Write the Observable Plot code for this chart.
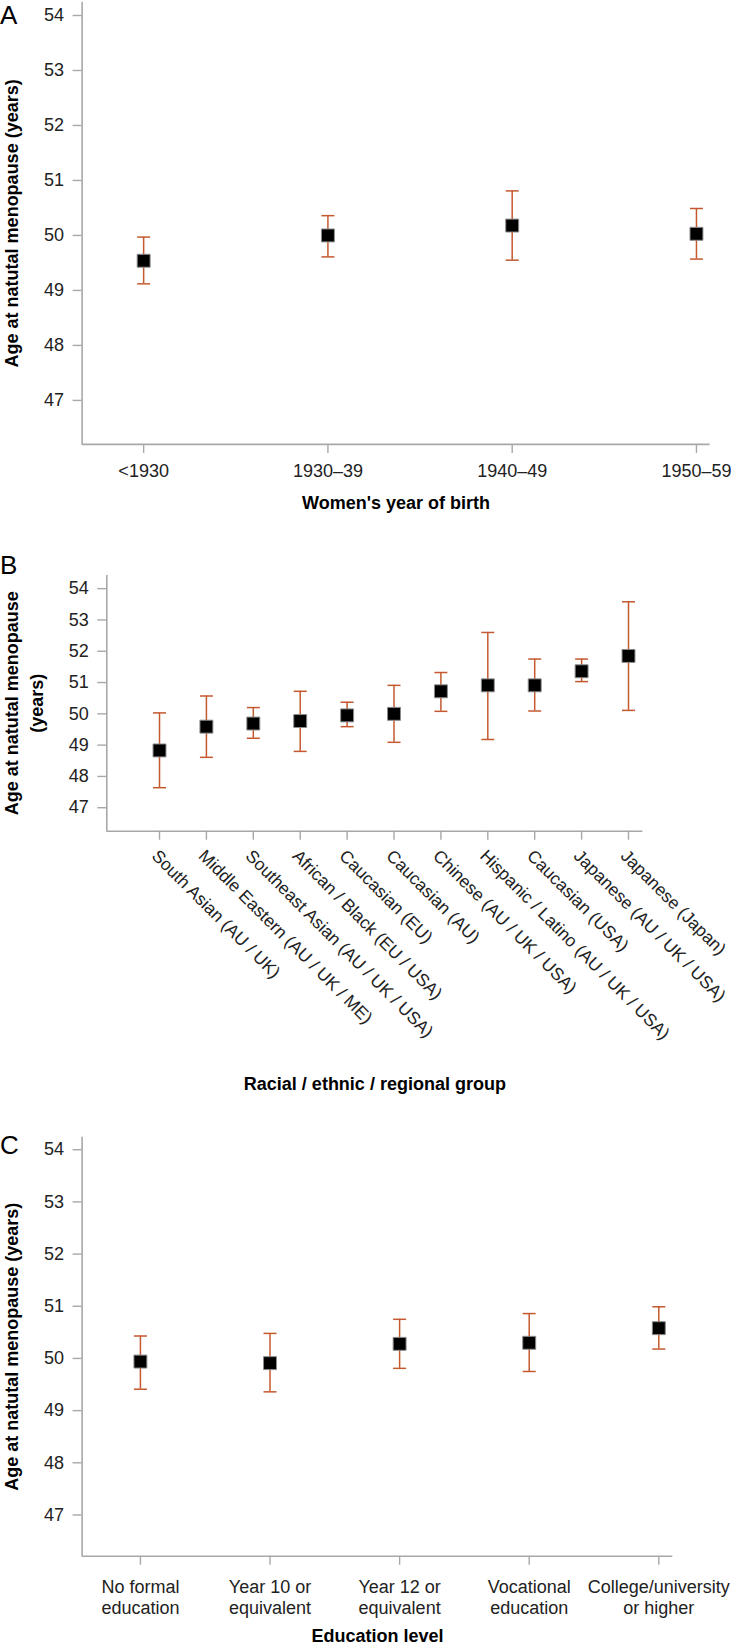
<!DOCTYPE html>
<html>
<head>
<meta charset="utf-8">
<script src="https://cdn.jsdelivr.net/npm/d3@7"></script>
<script src="https://cdn.jsdelivr.net/npm/@observablehq/plot@0.6"></script>
<style>
  body { margin: 0; background: #fff; }
  #wrap { position: relative; width: 731px; height: 1650px; overflow: hidden; font-family: "Liberation Sans", Arial, sans-serif; }
  .panel { position: absolute; left: 0; }
  .letter { position: absolute; left: 0; font-size: 26px; line-height: 26px; color: #000; }
</style>
</head>
<body>
<div id="wrap">
  <div class="panel" id="pa" style="top:0px"></div>
  <div class="panel" id="pb" style="top:540px"></div>
  <div class="panel" id="pc" style="top:1120px"></div>
  <div class="letter" style="top:2px">A</div>
  <div class="letter" style="top:552px">B</div>
  <div class="letter" style="top:1132px">C</div>
</div>
<script>
// ---- Data ----
const yTicks = [47, 48, 49, 50, 51, 52, 53, 54];

// Panel A: women's year of birth
const birthCohorts = ["<1930", "1930–39", "1940–49", "1950–59"];
const birthMean = [49.54, 50.00, 50.18, 50.03];
const birthLow  = [49.12, 49.61, 49.55, 49.57];
const birthHigh = [49.97, 50.36, 50.81, 50.49];

// Panel B: racial / ethnic / regional group
const groups = [
  "South Asian (AU / UK)",
  "Middle Eastern (AU / UK / ME)",
  "Southeast Asian (AU / UK / USA)",
  "African / Black (EU / USA)",
  "Caucasian (EU)",
  "Caucasian (AU)",
  "Chinese (AU / UK / USA)",
  "Hispanic / Latino (AU / UK / USA)",
  "Caucasian (USA)",
  "Japanese (AU / UK / USA)",
  "Japanese (Japan)"
];
const groupMean = [48.83, 49.59, 49.69, 49.77, 49.95, 50.00, 50.72, 50.91, 50.91, 51.36, 51.85];
const groupLow  = [47.64, 48.61, 49.22, 48.80, 49.59, 49.09, 50.08, 49.18, 50.09, 51.03, 50.11];
const groupHigh = [50.03, 50.57, 50.20, 50.72, 50.37, 50.91, 51.32, 52.60, 51.75, 51.75, 53.58];

// Panel C: education level
const eduLevels = [
  "No formal\neducation",
  "Year 10 or\nequivalent",
  "Year 12 or\nequivalent",
  "Vocational\neducation",
  "College/university\nor higher"
];
const eduMean = [49.94, 49.91, 50.28, 50.30, 50.58];
const eduLow  = [49.41, 49.36, 49.81, 49.75, 50.18];
const eduHigh = [50.43, 50.48, 50.75, 50.86, 50.99];

const yTitleOne = "Age at natutal menopause (years)";
const yTitleTwo = "Age at natutal menopause\n(years)";

// ---- Styles ----
const axisColor = "#a8a8a8";
const errColor = "#c4592f";
const textColor = "#222";
const fontFamily = "'Liberation Sans', Arial, Helvetica, sans-serif";

// horizontal cap symbol for the error bars
const capSymbol = {
  draw(ctx, size) {
    const h = Math.sqrt(size / Math.PI);
    ctx.moveTo(-h, 0);
    ctx.lineTo(h, 0);
  }
};

function panel(cfg) {
  const data = cfg.labels.map((label, i) => ({
    i, label, mean: cfg.mean[i], low: cfg.low[i], high: cfg.high[i]
  }));
  const idx = data.map(d => d.i);
  const marks = [
    Plot.ruleX([cfg.xDomain[0]], {stroke: axisColor, strokeWidth: 1.6}),
    Plot.ruleY([cfg.yDomain[0]], {stroke: axisColor, strokeWidth: 1.6}),
    Plot.axisY({
      ticks: yTicks, tickSize: 9, tickPadding: 9, fontSize: 18,
      stroke: axisColor, strokeWidth: 1.4, fill: textColor, label: null
    })
  ];
  if (cfg.rotate) {
    marks.push(Plot.axisX({
      ticks: idx, tickSize: 9, tickFormat: () => "", stroke: axisColor, strokeWidth: 1.4, label: null
    }));
    marks.push(Plot.text(data, {
      x: "i", text: "label", frameAnchor: "bottom", dy: cfg.labelDy,
      rotate: 45, textAnchor: "start", lineAnchor: "top",
      fontSize: 17.5, fill: textColor
    }));
  } else {
    marks.push(Plot.axisX({
      ticks: idx, tickFormat: i => cfg.labels[i], tickSize: 9, tickPadding: cfg.xTickPadding,
      fontSize: 18, lineHeight: 1.17, stroke: axisColor, strokeWidth: 1.4, fill: textColor, label: null
    }));
  }
  marks.push(
    Plot.ruleX(data, {x: "i", y1: "low", y2: "high", stroke: errColor, strokeWidth: 1.5}),
    Plot.dot(data, {x: "i", y: "low", symbol: capSymbol, r: 6.5, fill: "none", stroke: errColor, strokeWidth: 1.5}),
    Plot.dot(data, {x: "i", y: "high", symbol: capSymbol, r: 6.5, fill: "none", stroke: errColor, strokeWidth: 1.5}),
    Plot.dot(data, {x: "i", y: "mean", symbol: "square", r: 7.3, fill: "#000", stroke: "#8c8c8c", strokeWidth: 1}),
    Plot.text([cfg.yTitle], {
      text: d => d, frameAnchor: "left", dx: cfg.yTitleDx, rotate: -90,
      textAnchor: "middle", lineAnchor: "middle",
      fontWeight: "bold", fontSize: 18, lineHeight: 1.35, fill: "#000"
    }),
    Plot.text([cfg.xTitle], {
      text: d => d, frameAnchor: "bottom", dy: cfg.xTitleDy,
      textAnchor: "middle", lineAnchor: "middle",
      fontWeight: "bold", fontSize: 18, fill: "#000"
    })
  );
  return Plot.plot({
    width: 731,
    height: cfg.height,
    marginTop: cfg.marginTop,
    marginBottom: cfg.marginBottom,
    marginLeft: cfg.marginLeft,
    marginRight: cfg.marginRight,
    style: {fontFamily, fontSize: "18px", color: textColor, background: "white", overflow: "visible"},
    x: {type: "linear", domain: cfg.xDomain},
    y: {type: "linear", domain: cfg.yDomain},
    marks
  });
}

document.getElementById("pa").appendChild(panel({
  labels: birthCohorts, mean: birthMean, low: birthLow, high: birthHigh,
  height: 540, marginTop: 1.8, marginBottom: 96.1, marginLeft: 81.6, marginRight: 21.4,
  xDomain: [-0.334, 3.074], yDomain: [46.2, 54.24],
  xTickPadding: 9, yTitle: yTitleOne, yTitleDx: -72,
  xTitle: "Women's year of birth", xTitleDy: 59
}));

document.getElementById("pb").appendChild(panel({
  labels: groups, mean: groupMean, low: groupLow, high: groupHigh,
  height: 580, marginTop: 35, marginBottom: 289.3, marginLeft: 106.3, marginRight: 88.6,
  xDomain: [-1.124, 10.307], yDomain: [46.25, 54.42],
  rotate: true, labelDy: 17, yTitle: yTitleTwo, yTitleDx: -84,
  xTitle: "Racial / ethnic / regional group", xTitleDy: 253
}));

document.getElementById("pc").appendChild(panel({
  labels: eduLevels, mean: eduMean, low: eduLow, high: eduHigh,
  height: 530, marginTop: 16.7, marginBottom: 94.3, marginLeft: 81.6, marginRight: 58.7,
  xDomain: [-0.45, 4.108], yDomain: [46.21, 54.24],
  xTickPadding: 12.5, yTitle: yTitleOne, yTitleDx: -72,
  xTitle: "Education level", xTitleDy: 80
}));
</script>
</body>
</html>
